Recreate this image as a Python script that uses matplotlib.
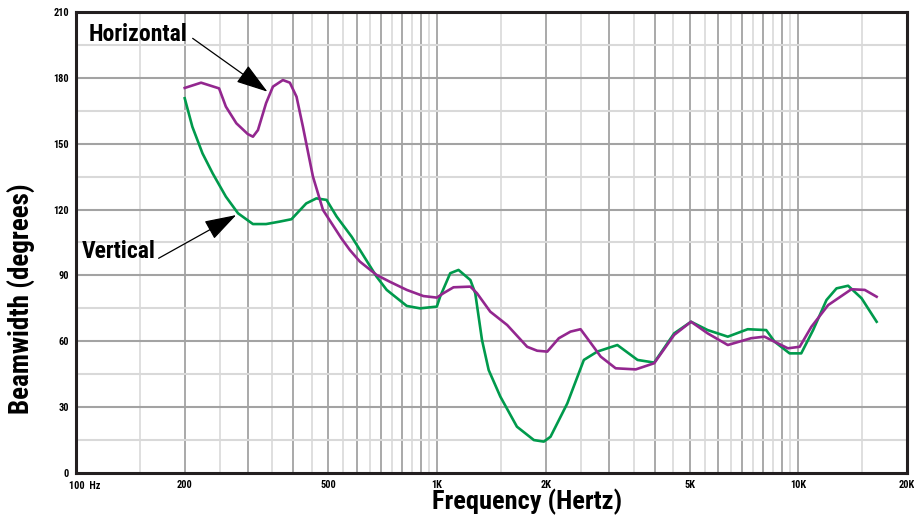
import numpy as np
import matplotlib
matplotlib.use("Agg")
import matplotlib.pyplot as plt
from matplotlib import font_manager
from matplotlib.patches import ArrowStyle

# pick a condensed bold face if one is there
names = {f.name for f in font_manager.fontManager.ttflist}
stretch = "normal"
if "Liberation Sans Narrow" in names:
    fam = "Liberation Sans Narrow"
elif "Roboto Condensed" in names:
    fam = "Roboto Condensed"
elif any(f.name == "DejaVu Sans" and f.stretch == "condensed" for f in font_manager.fontManager.ttflist):
    fam = "DejaVu Sans"
    stretch = "condensed"
else:
    fam = "Liberation Sans"
plt.rcParams["font.family"] = [fam, "DejaVu Sans"]
plt.rcParams["font.stretch"] = stretch

# data
h_freq = [200, 222, 249, 260, 278, 299, 309, 319, 336, 351, 374, 391, 408, 425, 453,
          483, 543, 573, 611, 680, 740, 824, 916, 998, 1041, 1110, 1236, 1289, 1403,
          1563, 1775, 1892, 2018, 2173, 2340, 2495, 2604, 2838, 3121, 3548, 3990,
          4532, 5047, 5613, 6380, 7400, 8059, 8405, 9357, 10090, 10870, 12100,
          14030, 15280, 16480]
h_deg = [175.4, 177.8, 175.2, 166.9, 159.3, 154.4, 153.2, 156.2, 168.5, 176, 179,
         177.8, 171.4, 157.7, 135, 119.8, 106.9, 101.6, 96.3, 90.2, 87.1, 83.4, 80.6,
         79.9, 81.9, 84.6, 84.9, 81.9, 73.5, 67.4, 57.5, 55.7, 55.3, 61.4, 64.4, 65.5,
         61.4, 53.0, 47.7, 47.2, 50.0, 62.9, 68.9, 63.6, 58.3, 61.4, 62.1, 60.6, 56.8,
         57.5, 66.6, 76.5, 83.7, 83.4, 80.3]

v_freq = [200, 210, 224, 239, 260, 281, 309, 336, 366, 395, 434, 463, 494, 527, 580,
          680, 725, 824, 897, 998, 1019, 1087, 1146, 1236, 1275, 1331, 1389, 1496,
          1663, 1853, 1974, 2060, 2293, 2548, 2776, 3155, 3589, 3990, 4532, 5047,
          5613, 6380, 7244, 8150, 8600, 9460, 10190, 10990, 11970, 12760, 13740,
          14970, 16480]
v_deg = [170.7, 157.7, 145.6, 136.5, 125.9, 118.3, 113.4, 113.4, 114.5, 115.6, 122.8,
         125.1, 124.4, 116.8, 107.6, 89.4, 83.4, 76.1, 75.0, 75.8, 80.3, 91.0, 92.5,
         87.9, 81.9, 60.6, 46.9, 34.8, 21.1, 15.0, 14.3, 16.5, 31.7, 51.5, 55.3, 58.3,
         51.5, 50.3, 63.6, 68.9, 65.1, 62.1, 65.5, 65.1, 59.8, 54.5, 54.5, 65.1, 78.8,
         84.1, 85.3, 79.6, 68.9]

x_ticks = [100, 200, 500, 1000, 2000, 5000, 10000, 20000]
x_labels = ["", "200", "500", "1K", "2K", "5K", "10K", "20K"]
y_ticks = [0, 30, 60, 90, 120, 150, 180, 210]

purple = "#93278f"
green = "#009a4c"

fig = plt.figure(figsize=(9.14, 5.2), dpi=100)
ax = fig.add_axes([76 / 914, 47 / 520, 831 / 914, 461 / 520])
ax.set_xscale("log")
ax.set_xlim(100, 20000)
ax.set_ylim(0, 210)

# grid: dark on whole steps, light on the half steps
major_x = list(np.arange(100, 1000, 100)) + list(np.arange(1000, 10000, 1000)) + [10000]
minor_x = list(np.arange(150, 1000, 100)) + list(np.arange(1500, 10000, 1000)) + [15000]
for x in minor_x:
    ax.axvline(x, color="#d9d9d9", lw=1.2, zorder=1)
for x in major_x:
    ax.axvline(x, color="#a3a3a3", lw=1.3, zorder=1)
for y in range(15, 210, 30):
    ax.axhline(y, color="#d9d9d9", lw=1.5, zorder=1)
for y in range(30, 210, 30):
    ax.axhline(y, color="#a3a3a3", lw=1.5, zorder=1)

ax.plot(v_freq, v_deg, color=green, lw=1.9, zorder=3, solid_joinstyle="round")
ax.plot(h_freq, h_deg, color=purple, lw=1.9, zorder=3, solid_joinstyle="round")

ax.set_xticks(x_ticks)
ax.set_xticklabels(x_labels)
ax.xaxis.set_minor_locator(plt.NullLocator())
ax.xaxis.set_minor_formatter(plt.NullFormatter())
ax.set_yticks(y_ticks)
ax.tick_params(length=0, labelsize=7.5, pad=5)
for t in ax.get_xticklabels() + ax.get_yticklabels():
    t.set_fontweight("bold")
ax.annotate("100  Hz", xy=(100, 0), xytext=(-5, -5.5), textcoords="offset points",
            ha="left", va="top", fontsize=7.5, fontweight="bold",
            annotation_clip=False)

for s in ax.spines.values():
    s.set_linewidth(2.2)
    s.set_color("#231f20")
    s.set_zorder(4)

head = ArrowStyle("-|>", head_length=1.0, head_width=0.32)
ax.text(148.7, 199.7, "Horizontal", fontsize=17, fontweight="bold",
        ha="center", va="center", zorder=5)
ax.annotate("", xy=(339, 173.7), xytext=(210.4, 198.0),
            arrowprops=dict(arrowstyle=head, mutation_scale=20, color="black",
                            lw=0.9, shrinkA=0, shrinkB=0), zorder=5)
ax.text(131.4, 100.9, "Vertical", fontsize=17, fontweight="bold",
        ha="center", va="center", zorder=5)
ax.annotate("", xy=(277.7, 117.5), xytext=(169.3, 97.8),
            arrowprops=dict(arrowstyle=head, mutation_scale=20, color="black",
                            lw=0.9, shrinkA=0, shrinkB=0), zorder=5)

fig.text(22 / 914, 1 - 299 / 520, "Beamwidth (degrees)", rotation=90,
         fontsize=19.5, fontweight="bold", ha="center", va="center")
fig.text(527 / 914, 1 - 502 / 520, "Frequency (Hertz)",
         fontsize=19, fontweight="bold", ha="center", va="center")

fig.savefig("out.png", dpi=100)
